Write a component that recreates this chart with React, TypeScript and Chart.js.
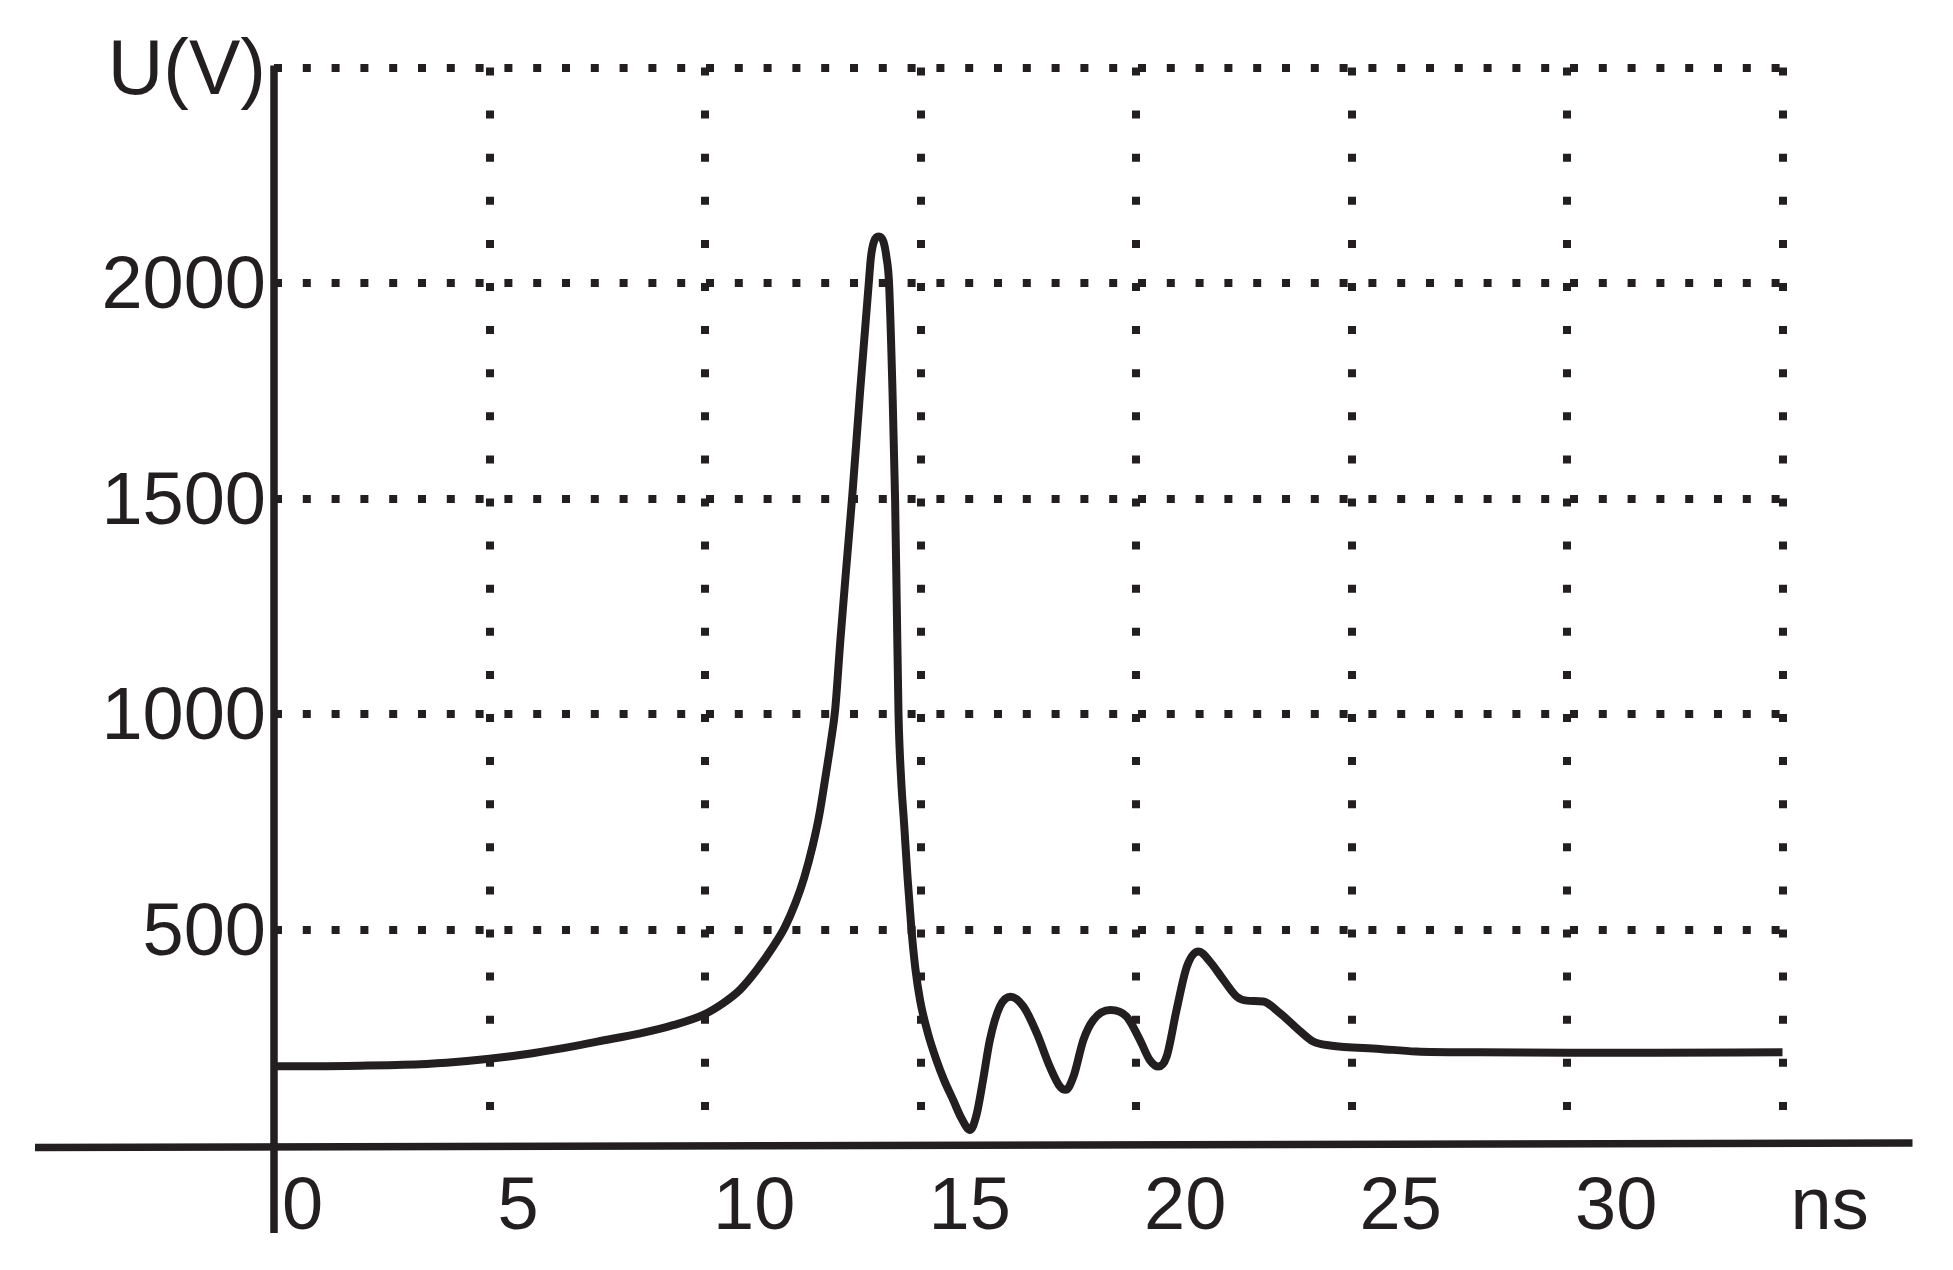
import React, { useEffect, useRef } from "react";
import { Chart, registerables } from "chart.js";

Chart.register(...registerables);

// time axis (ns) of the trace
const timeNs = [
  0, 1, 2, 3, 4, 5, 6, 7, 7.5, 8.5, 9.26, 9.96, 10.42, 10.81, 11.2, 11.58, 11.85, 12.1, 12.3, 12.5,
  12.65, 12.82, 12.92, 13.02, 13.14, 13.27, 13.42, 13.6, 13.8, 13.85, 13.92, 14.03, 14.14, 14.21,
  14.27, 14.35, 14.41, 14.45, 14.49, 14.55, 14.62, 14.7, 14.79, 14.88, 14.99, 15.17, 15.37, 15.55,
  15.76, 15.95, 16.15, 16.3, 16.45, 16.61, 16.84, 17.09, 17.39, 17.7, 18.0, 18.24, 18.37, 18.55,
  18.78, 19.01, 19.4, 19.78, 20.09, 20.32, 20.52, 20.71, 20.94, 21.18, 21.45, 21.72, 22.03, 22.34,
  22.57, 22.95, 23.34, 23.73, 24.11, 24.5, 25.66, 26.5, 28, 30, 32, 35,
];

// voltage (V) of the trace
const voltageV = [
  183, 183, 184, 186, 191, 200, 213, 230, 240, 259, 278, 302, 329, 360, 406, 460, 505, 562, 620, 695,
  765, 870, 935, 1010, 1170, 1330, 1510, 1750, 2000, 2060, 2096, 2108, 2096, 2060, 2000, 1750, 1500,
  1250, 1000, 850, 745, 620, 500, 410, 336, 260, 197, 150, 104, 62, 35, 70, 150, 244, 321, 344, 321,
  259, 182, 135, 128, 159, 244, 290, 313, 298, 244, 197, 182, 205, 313, 414, 449, 425, 383, 344, 335,
  333, 306, 271, 240, 231, 223, 217, 215, 214, 214, 215,
];

// axis ticks
const xTicks = [0, 5, 10, 15, 20, 25, 30, 35];
const xTickLabels = ["0", "5", "10", "15", "20", "25", "30", "ns"];
const yTicks = [0, 500, 1000, 1500, 2000, 2500];
const yTickLabels = ["", "500", "1000", "1500", "2000", "U(V)"];

const INK = "#231f20";
const FONT = "'Liberation Sans', Arial, Helvetica, sans-serif";

const axesPlugin = {
  id: "axesLines",
  afterDatasetsDraw(chart: any) {
    const { ctx, chartArea, scales } = chart;
    const x0 = scales.x.getPixelForValue(0);
    const y0 = scales.y.getPixelForValue(0);
    ctx.save();
    ctx.strokeStyle = INK;
    ctx.lineWidth = 7.5;
    ctx.lineCap = "butt";
    ctx.beginPath();
    ctx.moveTo(x0, chartArea.top - 2);
    ctx.lineTo(x0, y0 + 88);
    ctx.stroke();
    ctx.beginPath();
    ctx.moveTo(chartArea.left - 239, y0 + 2.5);
    ctx.lineTo(chartArea.right + 130, y0 - 2);
    ctx.stroke();
    ctx.restore();
  },
};

export default function App() {
  const ref = useRef<HTMLCanvasElement | null>(null);

  useEffect(() => {
    if (!ref.current) return;
    const points = timeNs.map((t, i) => ({ x: t, y: voltageV[i] }));
    const chart = new Chart(ref.current, {
      type: "line",
      data: {
        datasets: [
          {
            data: points,
            borderColor: INK,
            borderWidth: 8,
            pointRadius: 0,
            cubicInterpolationMode: "monotone",
            borderCapStyle: "round",
            borderJoinStyle: "round",
            fill: false,
          },
        ],
      },
      options: {
        animation: false,
        responsive: false,
        devicePixelRatio: 1,
        layout: { padding: { top: 67.5, right: 170.5, left: 0, bottom: 0 } },
        plugins: { legend: { display: false }, tooltip: { enabled: false } },
        scales: {
          x: {
            type: "linear",
            min: xTicks[0],
            max: xTicks[xTicks.length - 1],
            afterBuildTicks: (s: any) => {
              s.ticks = xTicks.map((v) => ({ value: v }));
            },
            afterFit: (s: any) => {
              s.height = 125;
            },
            ticks: {
              autoSkip: false,
              maxRotation: 0,
              align: "start",
              labelOffset: 8,
              padding: 19,
              color: INK,
              font: { family: FONT, size: 74 },
              callback: (v: any) => xTickLabels[xTicks.indexOf(Number(v))] ?? "",
            },
            grid: {
              drawTicks: false,
              lineWidth: 8,
              color: (c: any) => (c.tick && c.tick.value === 0 ? "rgba(0,0,0,0)" : INK),
            },
            border: { display: false, dash: [8, 35.1] },
          },
          y: {
            type: "linear",
            min: yTicks[0],
            max: yTicks[yTicks.length - 1],
            afterBuildTicks: (s: any) => {
              s.ticks = yTicks.map((v) => ({ value: v }));
            },
            afterFit: (s: any) => {
              s.width = 274;
            },
            ticks: {
              autoSkip: false,
              padding: 8,
              labelOffset: 5,
              color: INK,
              font: (c: any) => ({
                family: FONT,
                size: c.tick && c.tick.value === yTicks[yTicks.length - 1] ? 77 : 74,
              }),
              callback: (v: any) => yTickLabels[yTicks.indexOf(Number(v))] ?? "",
            },
            grid: {
              drawTicks: false,
              lineWidth: 8,
              color: (c: any) => (c.tick && c.tick.value === 0 ? "rgba(0,0,0,0)" : INK),
            },
            border: { display: false, dash: [8, 20.8] },
          },
        },
      },
      plugins: [axesPlugin],
    } as any);
    return () => chart.destroy();
  }, []);

  return (
    <div style={{ position: "absolute", left: 0, top: 0, width: 1953, height: 1270, background: "#fff" }}>
      <canvas ref={ref} width={1953} height={1270} style={{ display: "block" }} />
    </div>
  );
}
